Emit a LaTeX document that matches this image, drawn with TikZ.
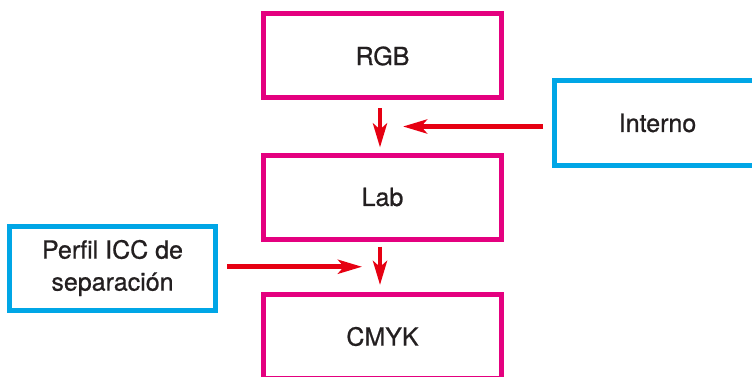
\documentclass[tikz,border=0pt]{standalone}
\usepackage{fontspec}
\setmainfont{TeX Gyre Heros}
\newfontfamily\boxfont[FakeBold=0.8]{TeX Gyre Heros}
\usetikzlibrary{arrows.meta,calc}

\definecolor{boxmagenta}{HTML}{E4007F}
\definecolor{boxcyan}{HTML}{00A6E6}
\definecolor{arrowred}{HTML}{E60012}
\definecolor{textgray}{HTML}{231F20}

\tikzset{
    magbox/.style={draw=boxmagenta, line width=5pt, minimum width=238pt,
        minimum height=84pt, text=textgray,
        font=\boxfont\fontsize{25}{32}\selectfont},
    cyanbox/.style={draw=boxcyan, line width=5pt, minimum width=206pt,
        minimum height=84pt, text=textgray, align=center,
        font=\boxfont\fontsize{25}{32}\selectfont},
    arr/.style={arrowred, line width=4.7pt,
        -{Stealth[length=24pt, width=14pt, inset=6pt]}}
}

\begin{document}
\begin{tikzpicture}[x=1pt, y=-1pt]

    % Fix the page and cut what runs over it
    \useasboundingbox (0,0) rectangle (752,377);
    \clip (0,0) rectangle (752,377);

    % Colour spaces down the middle
    \node[magbox] (rgb)  at (382.5, 56)   {RGB};
    \node[magbox] (lab)  at (382.5, 197)  {Lab};
    \node[magbox] (cmyk) at (382.5, 336.5) {CMYK};

    % Profiles on the sides
    \node[cyanbox] (interno) at (657.5, 123) {Interno};
    \node[cyanbox] (perfil)  at (112.5, 268) {Perfil ICC de\\separación};

    % Points half way between the boxes
    \coordinate (m1) at ($(rgb.south)!0.5!(lab.north)$);
    \coordinate (m2) at ($(lab.south)!0.5!(cmyk.north)$);

    % Down arrows
    \draw[arr, shorten <=8pt, shorten >=5pt]
        ([xshift=-2.5pt]rgb.south) -- ([xshift=-2.5pt]lab.north);
    \draw[arr, shorten <=5pt, shorten >=7pt]
        ([xshift=-2.5pt]lab.south) -- ([xshift=-2.5pt]cmyk.north);

    % Side arrows
    \draw[arr] ([xshift=-9pt]interno.west |- m1) -- ([xshift=20.5pt]m1);
    \draw[arr] ([xshift=9pt]perfil.east |- m2) -- ([xshift=-20.5pt]m2);

\end{tikzpicture}
\end{document}
